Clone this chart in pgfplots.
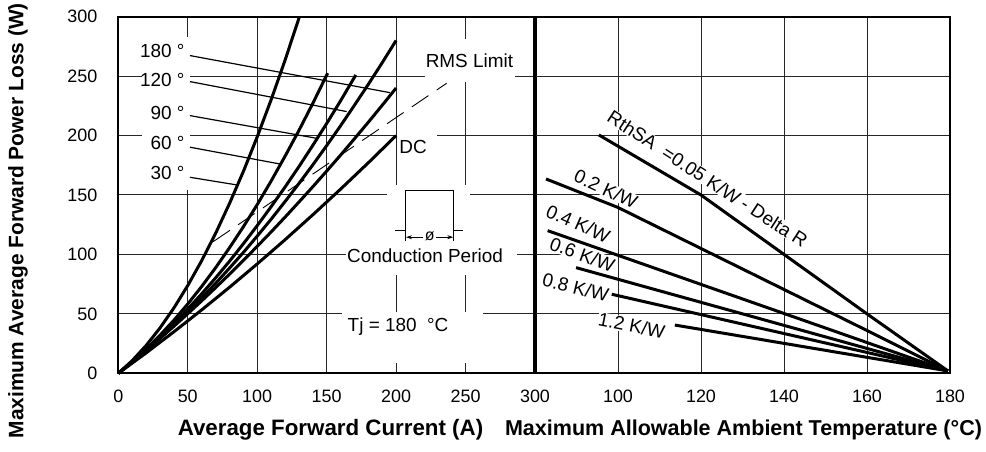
\documentclass[border=0pt]{standalone}
\usepackage{fontspec}
\setmainfont{Liberation Sans}
\usepackage{pgfplots}
\pgfplotsset{compat=1.18}
\usetikzlibrary{arrows.meta}

\begin{document}
\begin{tikzpicture}[font=\fontsize{9.5}{11}\selectfont]
\tikzset{leader/.style={black, line width=0.6bp}}
\pgfplotsset{
  every axis/.append style={
    scale only axis, height=178.3bp,
    ymin=0, ymax=300, ytick={0,50,...,300},
    grid=major, major grid style={black!85, line width=0.5bp},
    axis line style={line width=1.1bp},
    major tick length=0,
    tick label style={font=\fontsize{9}{10}\selectfont},
    xticklabel style={yshift=-5bp},
    /pgf/number format/assume math mode=true,
    clip=false,
  },
  curve/.style={black, line width=1.5bp, no markers},
}

% ---- left: power loss vs average forward current
\begin{axis}[at={(0,0)}, anchor=south west, width=208.35bp,
  xmin=0, xmax=300, xtick={0,50,...,300},
  yticklabel style={xshift=-7bp}]
  % white patches behind the annotations
  \fill[white] (axis cs:17,154) rectangle (axis cs:51.6,283);
  \fill[white] (axis cs:220.8,245.4) rectangle (axis cs:285.6,281);
  \fill[white] (axis cs:200.7,182) rectangle (axis cs:229.2,201);
  \fill[white] (axis cs:193.5,82.8) rectangle (axis cs:253.2,158.5);
  \fill[white] (axis cs:164,85) rectangle (axis cs:287,112);
  \fill[white] (axis cs:161,8.7) rectangle (axis cs:262.4,51.5);

  % 30 deg
  \addplot[curve] coordinates {(0,0) (10,10.65) (20,23.35) (30,38.1) (40,54.9)
    (50,73.8) (60,94.7) (70,117.6) (80,142.7) (90,169.7) (100,198.9)
    (110,230.0) (120,263.2) (130.4,300)};
  % 60 deg
  \addplot[curve] coordinates {(0,0) (10,9.65) (20,20.3) (30,32.0) (40,44.6)
    (50,58.3) (60,73.0) (70,88.7) (80,105.5) (90,123.2) (100,141.9)
    (110,161.7) (120,182.5) (130,204.2) (140,227.0) (150.7,252.5)};
  % 90 deg
  \addplot[curve] coordinates {(0,0) (10,9.55) (20,19.7) (30,30.6) (40,42.0)
    (50,54.1) (60,66.8) (70,80.2) (80,94.2) (90,108.9) (100,124.2)
    (110,140.1) (120,156.6) (130,173.8) (140,191.7) (150,210.1)
    (160,229.2) (171,251)};
  % 120 deg
  \addplot[curve] coordinates {(0,0) (10,9.3) (20,19.1) (30,29.4) (40,40.2)
    (50,51.5) (60,63.3) (70,75.6) (80,88.4) (90,101.6) (100,115.4)
    (110,129.6) (120,144.4) (130,159.6) (140,175.3) (150,191.5)
    (160,208.2) (170,225.5) (180,243.1) (190,261.3) (200,280)};
  % 180 deg
  \addplot[curve] coordinates {(0,0) (10,9.5) (20,19.2) (30,29.3) (40,39.5)
    (50,50.1) (60,60.9) (70,72.0) (80,83.3) (90,94.9) (100,106.8)
    (110,118.9) (120,131.3) (130,144.0) (140,156.9) (150,170.1)
    (160,183.5) (170,197.3) (180,211.2) (190,225.5) (200,240)};
  % DC
  \addplot[curve] coordinates {(0,0) (20,17.1) (40,34.9) (60,53.3) (80,72.3)
    (100,92.0) (120,112.3) (140,133.3) (160,154.9) (180,177.1) (200,200)};
  % RMS limit
  \addplot[black, line width=0.45bp, dash pattern=on 10bp off 5bp]
    coordinates {(68.4,110.8) (236.4,244)};

  % leader lines
  \draw[leader] (axis cs:51.6,267.3) -- (axis cs:195.6,236.1);
  \draw[leader] (axis cs:51.6,245.4) -- (axis cs:164.4,220.2);
  \draw[leader] (axis cs:51.6,216.8) -- (axis cs:142.8,197.7);
  \draw[leader] (axis cs:51.6,190.2) -- (axis cs:116.4,176.1);
  \draw[leader] (axis cs:51.6,164.9) -- (axis cs:85.2,158.5);
  \begin{scope}[every node/.style={anchor=east, inner sep=0}]
    \node at (axis cs:48,271.5) {180 °};
    \node at (axis cs:48,246.8) {120 °};
    \node at (axis cs:48,219.3) {90 °};
    \node at (axis cs:48,193.5) {60 °};
    \node at (axis cs:48,168.3) {30 °};
  \end{scope}

  \node at (axis cs:252.8,262.8) {RMS Limit};
  \node[anchor=west, inner sep=0] at (axis cs:202.1,190.7) {DC};

  % conduction period sketch
  \draw[line width=0.5bp] (axis cs:199.2,119.8) -- (axis cs:207.1,119.8)
    -- (axis cs:207.1,153.7) -- (axis cs:241.2,153.7) -- (axis cs:241.2,119.8)
    -- (axis cs:248.4,119.8);
  \draw[line width=0.5bp] (axis cs:207.1,119.8) -- (axis cs:207.1,111.6);
  \draw[line width=0.5bp] (axis cs:241.2,119.8) -- (axis cs:241.2,111.6);
  \draw[line width=0.4bp, {Stealth[length=3bp,width=2bp]}-{Stealth[length=3bp,width=2bp]}]
    (axis cs:207.1,114.5) -- (axis cs:241.2,114.5);
  \node[fill=white, inner sep=0.8bp, font=\fontsize{8}{9}\selectfont]
    at (axis cs:224.2,115.2) {ø};
  \node at (axis cs:220.8,98.7) {Conduction Period};
  \node[anchor=west, inner sep=0] at (axis cs:164.9,39.2) {Tj = 180~~°C};

  \draw[line width=2.2bp] (rel axis cs:1,0) -- (rel axis cs:1,1);
\end{axis}

% ---- right: power loss vs ambient temperature
\begin{axis}[at={(208.35bp,0)}, anchor=south west, width=207.5bp,
  xmin=80, xmax=180, xtick={100,120,...,180}, yticklabels={}]
  \addplot[curve] coordinates {(95.4,200.5) (120,150) (140,100) (160,50) (179.5,2)};
  \addplot[curve] coordinates {(82.65,163.5) (100,139.5) (120,105) (140,70.5) (160,36) (179.5,2)};
  \addplot[curve] coordinates {(83.05,120) (179.5,2)};
  \addplot[curve] coordinates {(89.9,88.9) (179.5,2)};
  \addplot[curve] coordinates {(98.5,66.5) (179.5,2)};
  \addplot[curve] coordinates {(113.7,40.6) (179.5,2)};

  \begin{scope}[every node/.style={fill=white, inner sep=0.3bp}]
    \node[rotate=-33] at (axis cs:121.6,163.5) {RthSA~~=0.05 K/W - Delta R};
    \node[rotate=-25] at (axis cs:97.1,155) {0.2 K/W};
    \node[rotate=-24] at (axis cs:90.4,126) {0.4 K/W};
    \node[rotate=-20] at (axis cs:91.4,100) {0.6 K/W};
    \node[rotate=-14] at (axis cs:89.8,72.2) {0.8 K/W};
    \node[rotate=-11] at (axis cs:103.3,40) {1.2 K/W};
  \end{scope}
\end{axis}

% axis titles
\node[rotate=90, font=\bfseries\fontsize{10.5}{12}\selectfont]
  at (-50.15bp,76.25bp) {Maximum Average Forward Power Loss (W)};
\node[font=\bfseries\fontsize{11.2}{13}\selectfont]
  at (106.1bp,-28.35bp) {Average Forward Current (A)};
\node[font=\bfseries\fontsize{10.8}{13}\selectfont]
  at (312.6bp,-28.35bp) {Maximum Allowable Ambient Temperature (°C)};

\pgfresetboundingbox
\path[use as bounding box] (-59.15bp,-39.35bp) rectangle (433.85bp,186.65bp);
\end{tikzpicture}
\end{document}
